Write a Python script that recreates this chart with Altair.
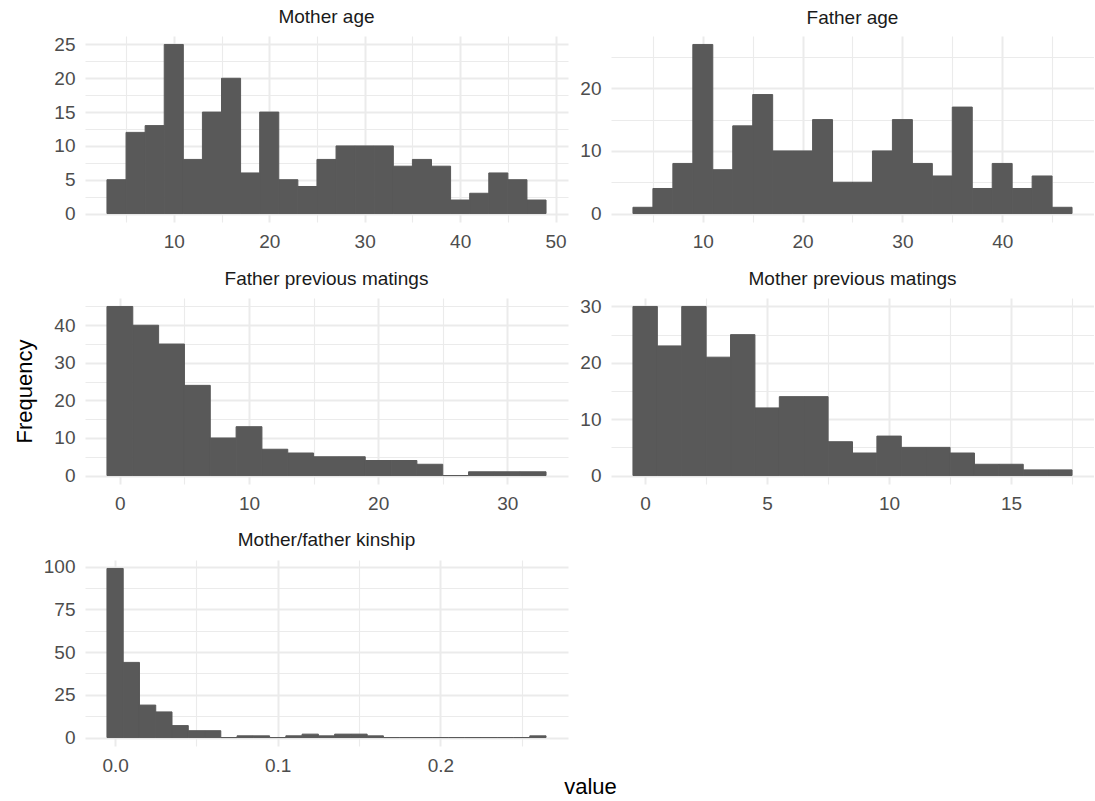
import json
import altair as alt
import pandas as pd

FONT = "Liberation Sans"
BAR = "#595959"
GRID = "#EBEBEB"

# ---- data ----
mother_age_counts = [5, 12, 13, 25, 8, 15, 20, 6, 15, 5, 4, 8, 10, 10, 10, 7, 8, 7, 2, 3, 6, 5, 2]
mother_age_bin = (3, 2)          # first bin start, bin width

father_age_counts = [1, 4, 8, 27, 7, 14, 19, 10, 10, 15, 5, 5, 10, 15, 8, 6, 17, 4, 8, 4, 6, 1]
father_age_bin = (3, 2)

father_prev_counts = [45, 40, 35, 24, 10, 13, 7, 6, 5, 5, 4, 4, 3, 0, 1, 1, 1]
father_prev_bin = (-1, 2)

mother_prev_counts = [30, 23, 30, 21, 25, 12, 14, 14, 6, 4, 7, 5, 5, 4, 2, 2, 1, 1]
mother_prev_bin = (-0.5, 1)

kinship_counts = [99, 44, 19, 15, 7, 4, 4, 0, 1, 1, 0, 1, 2, 1, 2, 2, 1,
                  0, 0, 0, 0, 0, 0, 0, 0, 0, 1]
kinship_bin = (-0.005, 0.01)

PW, PH = 483, 186


def make_axis(major, minor, fmt, **kw):
    vals = sorted(major + minor)
    test = "indexof(%s, datum.value) >= 0" % json.dumps(major)
    return alt.Axis(
        values=vals,
        labelExpr=f"{test} ? format(datum.value, '{fmt}') : ''",
        grid=True,
        gridColor=GRID,
        gridWidth={"condition": {"test": test, "value": 2}, "value": 1.1},
        ticks=False,
        domain=False,
        labelFont=FONT,
        labelFontSize=19,
        labelColor="#4D4D4D",
        labelPadding=10,
        labelOverlap=False,
        labelFlush=False,
        titleFont=FONT,
        titleFontSize=22,
        titleFontWeight="normal",
        titleColor="#000000",
        **kw,
    )


def panel(title, counts, binspec, xdom, xmaj, xmin, xfmt, ydom, ymaj, ymin,
          xaxis_kw=None, yaxis_kw=None):
    start, width = binspec
    lo = [round(start + i * width, 4) for i in range(len(counts))]
    hi = [round(v + width, 4) for v in lo]
    df = pd.DataFrame({"lo": lo, "hi": hi, "count": counts})
    xaxis_kw = xaxis_kw or {"title": None}
    yaxis_kw = yaxis_kw or {"title": None}
    return (
        alt.Chart(df)
        .mark_rect(color=BAR, stroke=BAR, strokeWidth=1)
        .encode(
            x=alt.X("lo:Q", scale=alt.Scale(domain=xdom, nice=False, zero=False),
                    axis=make_axis(xmaj, xmin, xfmt, **xaxis_kw)),
            x2="hi:Q",
            y=alt.Y("count:Q", scale=alt.Scale(domain=ydom, nice=False, zero=False),
                    axis=make_axis(ymaj, ymin, "d", **yaxis_kw)),
            y2=alt.datum(0),
        )
        .properties(
            width=PW, height=PH,
            title=alt.TitleParams(title, font=FONT, fontSize=19, fontWeight="normal",
                                  color="#1A1A1A", anchor="middle", offset=8),
        )
    )


c1 = panel("Mother age", mother_age_counts, mother_age_bin,
           [0.7, 51.3], [10, 20, 30, 40, 50], [5, 15, 25, 35, 45], "d",
           [-1.25, 26.25], [0, 5, 10, 15, 20, 25], [2.5, 7.5, 12.5, 17.5, 22.5])
c2 = panel("Father age", father_age_counts, father_age_bin,
           [0.8, 49.2], [10, 20, 30, 40], [5, 15, 25, 35, 45], "d",
           [-1.35, 28.35], [0, 10, 20], [5, 15, 25])
c3 = panel("Father previous matings", father_prev_counts, father_prev_bin,
           [-2.7, 34.7], [0, 10, 20, 30], [5, 15, 25], "d",
           [-2.25, 47.25], [0, 10, 20, 30, 40], [5, 15, 25, 35, 45],
           yaxis_kw={"title": "Frequency", "titleX": -54, "titleY": PH / 2,
                     "titleAlign": "center", "titleBaseline": "alphabetic", "titleAngle": 270})
c4 = panel("Mother previous matings", mother_prev_counts, mother_prev_bin,
           [-1.4, 18.4], [0, 5, 10, 15], [2.5, 7.5, 12.5, 17.5], "d",
           [-1.5, 31.5], [0, 10, 20, 30], [5, 15, 25])
c5 = panel("Mother/father kinship", kinship_counts, kinship_bin,
           [-0.0185, 0.2785], [0.0, 0.1, 0.2], [0.05, 0.15, 0.25], ".1f",
           [-4.95, 103.95], [0, 25, 50, 75, 100], [12.5, 37.5, 62.5, 87.5],
           xaxis_kw={"title": "value", "titleX": 505, "titleY": 47,
                     "titleAlign": "center", "titleBaseline": "alphabetic"})

chart = (
    alt.concat(c1, c2, c3, c4, c5, columns=2, spacing={"row": 76, "column": 43},
               bounds="flush")
    .properties(padding={"left": 13, "top": 8, "right": 0, "bottom": 0},
                background="white")
    .configure_view(stroke=None)
)

chart.save("out.html", embed_options={"renderer": "svg", "actions": False})
